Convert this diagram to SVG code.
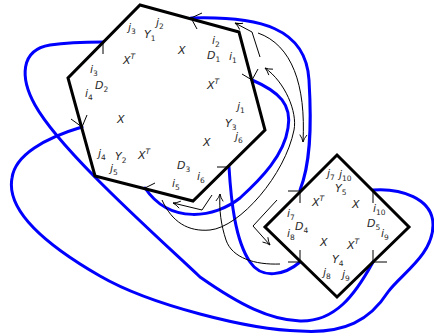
<svg xmlns="http://www.w3.org/2000/svg" width="434" height="336" viewBox="0 0 434 336">
<defs>
<style>
.poly{fill:none;stroke:#000;stroke-width:3;stroke-linejoin:miter}
.blue{fill:none;stroke:#0000ff;stroke-width:3;stroke-linecap:round}
.thin{fill:none;stroke:#000;stroke-width:1}
.arr{fill:none;stroke:#000;stroke-width:1;marker-end:url(#ah)}
text{font-family:"DejaVu Sans",sans-serif;font-style:italic;font-size:11px;fill:#2a2a2a}
.s{font-size:7.5px;font-style:normal}
.t{font-size:7.5px}
</style>
<marker id="ah" viewBox="0 0 10 10" refX="9" refY="5" markerWidth="9" markerHeight="9" orient="auto" markerUnits="userSpaceOnUse">
<path d="M1,1 Q5,4 9,5 Q5,6 1,9" fill="none" stroke="#000" stroke-width="1"/>
</marker>
</defs>

<g id="connectors">
<path class="blue" d="M191,18 C260,16 306,28 309,80 C312,130 310,165 300,190"/>
<path class="blue" d="M252,80 C280,92 292,105 288,128 C284,155 262,178 240,198 C215,218 170,225 145,188"/>
<path class="blue" d="M229,167 C231,200 235,240 250,262 C262,280 285,275 300,262"/>
<path class="blue" d="M373,190 C400,188 433,198 433,225 C433,255 400,275 388,292 C370,320 345,334 300,331 C250,330 150,305 100,276 C60,253 5,215 12,178 C15,155 45,138 82,127"/>
<path class="blue" d="M373,262 C355,295 335,322 300,321 C270,320 240,305 200,277 C150,230 60,150 35,105 C20,78 20,50 50,45 C70,42 90,42 103,42"/>

<path class="arr" d="M258,33 C292,45 306,85 303,142"/>
<path class="arr" d="M162,200 C172,222 188,232 210,230 C240,227 285,175 294,130 C297.6,112 285,82 265,68"/>
<path class="arr" d="M280,264 C255,265 232,258 226,240 C221,225 219,210 220,194"/>
<path class="arr" d="M212,195 L202,210 L173,203"/>
<path class="arr" d="M277,200 L253,226 L270,245"/>
<path class="arr" d="M260,57 L252,32 L235,23"/>

<path class="thin" d="M103,42 L103,54"/>
<path class="thin" d="M202,13 L191,18 L197,29"/>
<path class="thin" d="M242,74 L252,80 L258,69"/>
<path class="thin" d="M71,119 L82,127 L87,115"/>
<path class="thin" d="M145,188 L155,183"/>
<path class="thin" d="M217,167 L229,167"/>
<path class="thin" d="M288,191 L300,191 L300,203"/>
<path class="thin" d="M288,262 L300,262 L300,250"/>
<path class="thin" d="M373,190 L373,203"/>
<path class="thin" d="M387,262 L373,262 L373,250"/>
</g>

<g id="hexagon">
<path class="poly" d="M140,5 L239,32 L265,130 L193,201 L95,176 L68,78 Z"/>
<text x="128" y="31">j<tspan class="s" dy="3">3</tspan></text>
<text x="156" y="26">j<tspan class="s" dy="3">2</tspan></text>
<text x="144" y="38">Y<tspan class="s" dy="3">1</tspan></text>
<text x="123" y="64">X<tspan class="t" dy="-5">T</tspan></text>
<text x="178" y="54">X</text>
<text x="90" y="73">i<tspan class="s" dy="3">3</tspan></text>
<text x="95" y="89">D<tspan class="s" dy="3">2</tspan></text>
<text x="85" y="97">i<tspan class="s" dy="3">4</tspan></text>
<text x="212" y="44">i<tspan class="s" dy="3">2</tspan></text>
<text x="207" y="59">D<tspan class="s" dy="3">1</tspan></text>
<text x="229" y="60">i<tspan class="s" dy="3">1</tspan></text>
<text x="207" y="89">X<tspan class="t" dy="-5">T</tspan></text>
<text x="237" y="110">j<tspan class="s" dy="3">1</tspan></text>
<text x="225" y="127">Y<tspan class="s" dy="3">3</tspan></text>
<text x="235" y="140">j<tspan class="s" dy="3">6</tspan></text>
<text x="203" y="146">X</text>
<text x="177" y="169">D<tspan class="s" dy="3">3</tspan></text>
<text x="197" y="180">i<tspan class="s" dy="3">6</tspan></text>
<text x="172" y="187">i<tspan class="s" dy="3">5</tspan></text>
<text x="117" y="123">X</text>
<text x="98" y="157">j<tspan class="s" dy="3">4</tspan></text>
<text x="115" y="160">Y<tspan class="s" dy="3">2</tspan></text>
<text x="138" y="159">X<tspan class="t" dy="-5">T</tspan></text>
<text x="110" y="172">j<tspan class="s" dy="3">5</tspan></text>
</g>

<g id="diamond">
<path class="poly" d="M337,155 L409,227 L337,297 L265,227 Z"/>
<text x="327" y="177">j<tspan class="s" dy="3">7</tspan></text>
<text x="339" y="178">j<tspan class="s" dy="3">10</tspan></text>
<text x="335" y="192">Y<tspan class="s" dy="3">5</tspan></text>
<text x="312" y="206">X<tspan class="t" dy="-5">T</tspan></text>
<text x="352" y="208">X</text>
<text x="287" y="217">i<tspan class="s" dy="3">7</tspan></text>
<text x="295" y="230">D<tspan class="s" dy="3">4</tspan></text>
<text x="287" y="237">i<tspan class="s" dy="3">8</tspan></text>
<text x="373" y="212">i<tspan class="s" dy="3">10</tspan></text>
<text x="367" y="227">D<tspan class="s" dy="3">5</tspan></text>
<text x="381" y="237">i<tspan class="s" dy="3">9</tspan></text>
<text x="320" y="246">X</text>
<text x="347" y="249">X<tspan class="t" dy="-5">T</tspan></text>
<text x="332" y="263">Y<tspan class="s" dy="3">4</tspan></text>
<text x="323" y="276">j<tspan class="s" dy="3">8</tspan></text>
<text x="342" y="278">j<tspan class="s" dy="3">9</tspan></text>
</g>
</svg>
